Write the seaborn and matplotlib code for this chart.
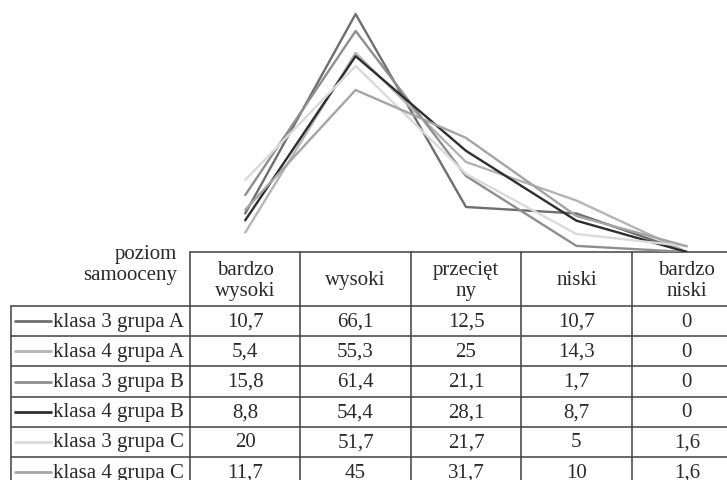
import pandas as pd
import matplotlib.pyplot as plt
import seaborn as sns

sns.set_style("white")
plt.rcParams['font.family'] = ['Liberation Serif', 'DejaVu Serif']

# Data
levels = ['bardzo\nwysoki', 'wysoki', 'przecięt\nny', 'niski', 'bardzo\nniski']
groups = ['klasa 3 grupa A', 'klasa 4 grupa A', 'klasa 3 grupa B',
          'klasa 4 grupa B', 'klasa 3 grupa C', 'klasa 4 grupa C']
k3_a = [10.7, 66.1, 12.5, 10.7, 0]
k4_a = [5.4, 55.3, 25, 14.3, 0]
k3_b = [15.8, 61.4, 21.1, 1.7, 0]
k4_b = [8.8, 54.4, 28.1, 8.7, 0]
k3_c = [20, 51.7, 21.7, 5, 1.6]
k4_c = [11.7, 45, 31.7, 10, 1.6]
values = [k3_a, k4_a, k3_b, k4_b, k3_c, k4_c]
colors = ['#6e6e6e', '#b4b4b4', '#8e8e8e', '#2e2e2e', '#dadada', '#a4a4a4']

rows = []
for g, vals in zip(groups, values):
    for i, v in enumerate(vals):
        rows.append({'grupa': g, 'poziom': i, 'procent': v})
df = pd.DataFrame(rows)

fig = plt.figure(figsize=(7.27, 4.81), dpi=100)

# table canvas in pixel coords
tab = fig.add_axes([0, 0, 1, 1])
tab.set_xlim(0, 727)
tab.set_ylim(481, 0)
tab.axis('off')

# line chart sits above the table columns
W, H = 727, 481
x0, x1 = 190, 742
y_top, y_base = 1, 253
ax = fig.add_axes([x0 / W, (H - y_base) / H, (x1 - x0) / W, (y_base - y_top) / H])
sns.lineplot(data=df, x='poziom', y='procent', hue='grupa', palette=colors,
             hue_order=groups, linewidth=1.7, legend=False, ax=ax)
ax.set_xlim(-0.5, 4.5)
ax.set_ylim(0, 70)
ax.axis('off')

# table grid
lc = '#404040'
lw = 1.1
col_w = (x1 - x0) / 5
head_top = 253
row_top = 307
row_h = 30.2
n = len(groups)
bottom = row_top + row_h * n
tab.plot([x0, x1], [head_top, head_top], color=lc, lw=lw)
for i in range(n + 1):
    y = row_top + row_h * i
    tab.plot([11, x1], [y, y], color=lc, lw=lw)
tab.plot([11, 11], [row_top, bottom], color=lc, lw=lw)
for j in range(6):
    x = x0 + col_w * j
    tab.plot([x, x], [head_top, bottom], color=lc, lw=lw)

fs = 15
tc = '#2a2a2a'
tab.text(177, 265, 'poziom\nsamooceny', ha='right', va='center',
         fontsize=fs, linespacing=1.12, color=tc)
for j, lab in enumerate(levels):
    tab.text(x0 + col_w * (j + 0.5), 281, lab, ha='center', va='center',
             fontsize=fs, linespacing=1.12, color=tc)

for i, (g, vals, c) in enumerate(zip(groups, values, colors)):
    yc = row_top + row_h * (i + 0.5)
    tab.plot([15, 51], [yc, yc], color=c, lw=2)
    tab.text(184, yc, g, ha='right', va='center', fontsize=fs, color=tc)
    for j, v in enumerate(vals):
        tab.text(x0 + col_w * (j + 0.5), yc, f"{v:g}".replace('.', ','),
                 ha='center', va='center', fontsize=fs, color=tc)

fig.savefig('out.png', dpi=100)
